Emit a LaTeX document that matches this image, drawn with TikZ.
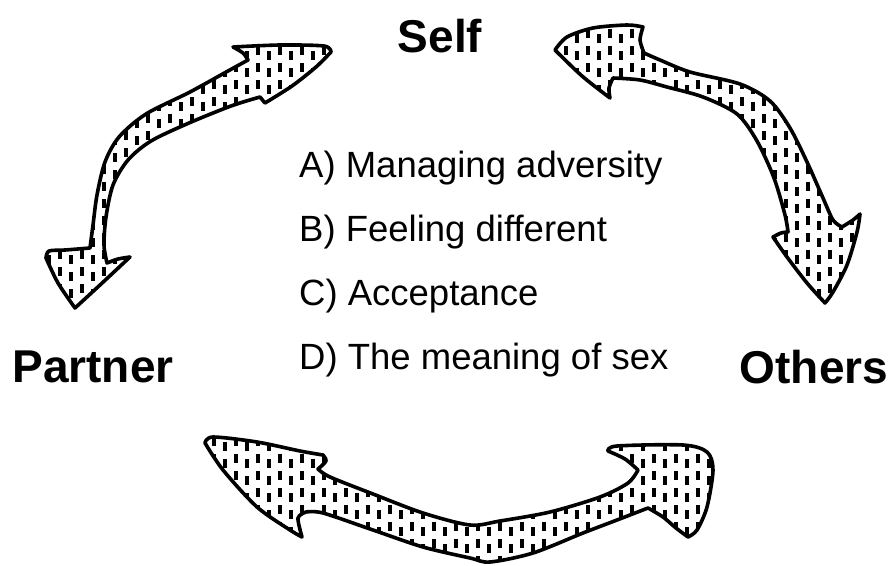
\documentclass[tikz,border=0pt]{standalone}
\usepackage{fontspec}
\setmainfont{Liberation Sans}
\usepackage{tikz}

\begin{document}
\begin{tikzpicture}[
        x=1pt, y=-1pt,
        pole/.style={
            font=\fontsize{46}{50}\selectfont\bfseries,
            inner sep=0pt,
            anchor=base
        },
        topic/.style={
            font=\fontsize{36.5}{40}\selectfont,
            inner sep=0pt,
            anchor=base west
        },
        swoosh/.style={
            draw=black,
            line width=3.6pt,
            line join=round,
            fill=white,
            path picture={
                \foreach \col [evaluate=\col as \ph using {mod(\col,2)*5}] in {0,...,80}
                    \draw[line width=3.2pt, dash pattern=on 9pt off 8pt, dash phase=\ph pt]
                        (5+11*\col,0) -- (5+11*\col,570);
            }
        }
    ]
        \useasboundingbox (0,0) rectangle (891,565);

        \node[pole] (self) at (440,52) {Self};
        \node[pole] (partner) at (93,382) {Partner};
        \node[pole] (others) at (814,383) {Others};

        \node[topic] (itemA) at (299,177) {A) Managing adversity};
        \node[topic] (itemB) at (299,241) {B) Feeling different};
        \node[topic] (itemC) at (299,305) {C) Acceptance};
        \node[topic] (itemD) at (299,369) {D) The meaning of sex};

        % self <-> partner
        \draw[swoosh] (331,52)
            -- plot[smooth] coordinates {(331,52) (324,46) (280,45) (233,47)}
            -- plot[smooth] coordinates {(233,47) (243,53) (248,60)}
            -- plot[smooth] coordinates {(248,60) (228,71) (190,92) (146,114) (119,137) (105,162) (97,195) (93,225) (90,248)}
            -- plot[smooth] coordinates {(90,248) (65,250) (49,251) (46,258)}
            -- plot[smooth] coordinates {(46,258) (58,283) (75,308)}
            -- plot[smooth] coordinates {(75,308) (100,285) (130,257)}
            -- plot[smooth] coordinates {(130,257) (118,259) (107,263)}
            -- plot[smooth] coordinates {(107,263) (104,245) (106,217) (113,185) (128,160) (151,141) (189,123) (231,106) (260,97)}
            -- plot[smooth] coordinates {(260,97) (265,103)}
            -- plot[smooth] coordinates {(265,103) (292,86) (316,67) (331,52)}
            -- cycle;

        % self <-> others
        \draw[swoosh] (555,50)
            -- plot[smooth] coordinates {(555,50) (567,37) (593,28) (627,25) (643,27)}
            -- plot[smooth] coordinates {(643,27) (640,40) (644,53)}
            -- plot[smooth] coordinates {(644,53) (660,60) (690,72) (740,84) (770,101) (790,128) (807,162) (823,198) (833,220) (842,227)}
            -- plot[smooth] coordinates {(842,227) (853,220) (860,214)}
            -- plot[smooth] coordinates {(860,214) (857,232) (847,265) (833,292) (825,303)}
            -- plot[smooth] coordinates {(825,303) (807,283) (787,257) (773,237)}
            -- plot[smooth] coordinates {(773,237) (781,233) (788,232)}
            -- plot[smooth] coordinates {(788,232) (785,215) (774,178) (757,141) (737,114) (703,97) (667,87) (640,80) (613,78)}
            -- plot[smooth] coordinates {(613,78) (609,88) (610,98)}
            -- plot[smooth] coordinates {(610,98) (582,76) (555,50)}
            -- cycle;

        % partner <-> others
        \draw[swoosh] (205,443)
            -- plot[smooth] coordinates {(205,443) (213,437) (257,442) (300,451) (323,455)}
            -- plot[smooth] coordinates {(323,455) (326,461) (318,469)}
            -- plot[smooth] coordinates {(318,469) (330,477) (373,494) (423,513) (470,525) (500,521) (550,512) (600,497) (628,483) (638,470)}
            -- plot[smooth] coordinates {(638,470) (625,459) (608,451)}
            -- plot[smooth] coordinates {(608,451) (617,446) (683,445) (707,452) (713,470) (707,507) (697,530) (688,537)}
            -- plot[smooth] coordinates {(688,537) (676,528) (663,517) (648,508)}
            -- plot[smooth] coordinates {(648,508) (617,520) (583,533) (533,553) (490,562) (470,558) (423,547) (373,530) (323,513) (306,512)}
            -- plot[smooth] coordinates {(306,512) (298,518) (302,537)}
            -- plot[smooth] coordinates {(302,537) (290,530) (257,507) (223,470) (205,443)}
            -- cycle;
    \end{tikzpicture}
\end{document}
